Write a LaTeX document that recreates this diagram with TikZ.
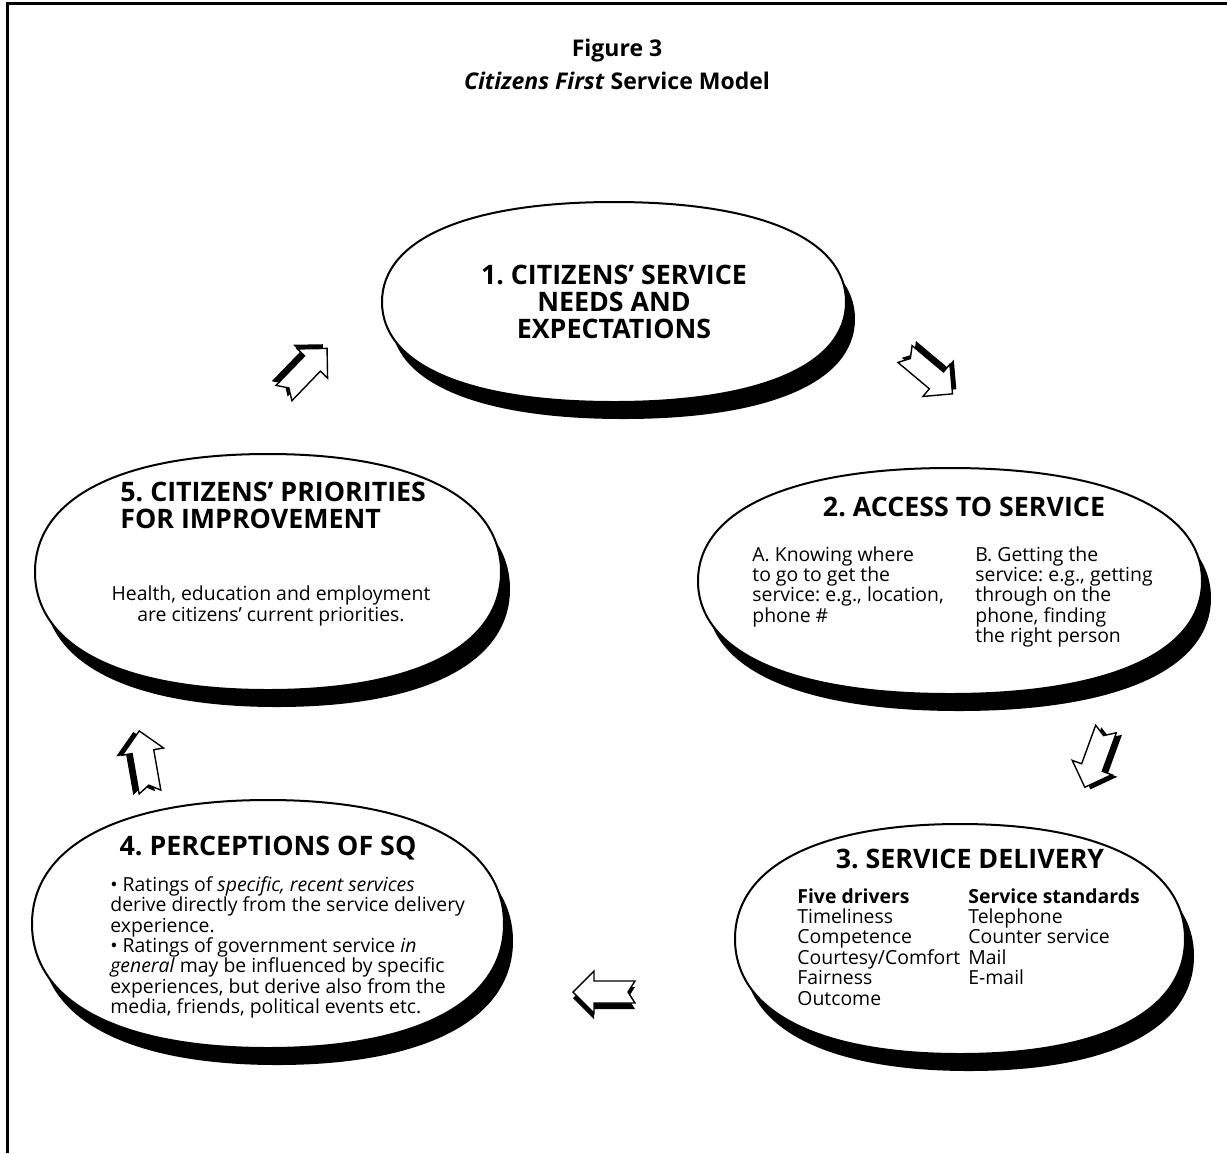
\documentclass[tikz,border=0pt]{standalone}
\usepackage{fontspec}
\setmainfont{Open Sans}
\usetikzlibrary{positioning}
\frenchspacing

\newcommand\stagedisc[5]{%
    \begin{scope}[shift={#2}, rotate=#5]
        \fill[black, shift={(9,17)}] [discpath={#3}{#4}];
        \draw[line width=1pt, fill=white] [discpath={#3}{#4}];
        \coordinate (#1) at (0,0);
    \end{scope}}

\begin{document}
\begin{tikzpicture}[
        x=0.5pt, y=-0.5pt,
        discpath/.style 2 args={
            insert path={(#1,0) .. controls (#1,0.63*#2) and (0.63*#1,#2) .. (0,#2)
                .. controls (-0.63*#1,#2) and (-#1,0.63*#2) .. (-#1,0)
                .. controls (-#1,-0.63*#2) and (-0.63*#1,-#2) .. (0,-#2)
                .. controls (0.63*#1,-#2) and (#1,-0.63*#2) .. cycle}
        },
        heading/.style={
            font=\bfseries\fontsize{13.4}{13.5}\selectfont,
            inner sep=0pt,
            align=center
        },
        body/.style={
            font=\fontsize{9.7}{10.2}\selectfont,
            inner sep=0pt,
            align=left
        },
        blockarrow/.pic={
            \fill[black] (0,-17) -- (41,-17) -- (41,-27) -- (62,-6) -- (41,15) -- (41,5) -- (0,5) -- (7,-6) -- cycle;
            \draw[fill=white, line width=0.7pt, line join=miter] (0,-11) -- (41,-11) -- (41,-21) -- (62,0) -- (41,21) -- (41,11) -- (0,11) -- (7,0) -- cycle;
        }
    ]
        \useasboundingbox (0,0) rectangle (1227,1153);
        \draw[line width=1.5pt] (7,1153) -- (7,3) -- (1227,3);

        \node[font=\bfseries\fontsize{11.5}{16.5}\selectfont, align=center, inner sep=0pt] (figtitle) at (617,64) {Figure 3\\\textit{Citizens First} Service Model};

        \stagedisc{needs}{(614,302)}{232}{100}{0}
        \stagedisc{access}{(950,581)}{252}{113}{0}
        \stagedisc{delivery}{(960,939)}{225}{115}{0}
        \stagedisc{percept}{(268,924)}{236}{124}{0}
        \stagedisc{priority}{(268,572)}{233}{118}{0}

        \node[heading] (needslabel) at (needs) {1. CITIZENS’ SERVICE\\NEEDS AND\\EXPECTATIONS};

        \node[heading] (accesslabel) at (964,507) {2. ACCESS TO SERVICE};
        \node[body, anchor=north west] (knowing) at (752,546) {A. Knowing where\\to go to get the\\service: e.g., location,\\phone \#};
        \node[body, anchor=north west] (getting) at (975,546) {B. Getting the\\service: e.g., getting\\through on the\\phone, finding\\the right person};

        \node[heading] (deliverylabel) at (970,859) {3. SERVICE DELIVERY};
        \node[body, anchor=north west] (drivers) at (797,888) {\textbf{Five drivers}\\Timeliness\\Competence\\Courtesy/Comfort\\Fairness\\Outcome};
        \node[body, anchor=north west] (standards) at (968,888) {\textbf{Service standards}\\Telephone\\Counter service\\Mail\\E-mail};

        \node[heading] (perceptlabel) at (268,848) {4. PERCEPTIONS OF SQ};
        \node[body, anchor=north west] (ratings) at (110,876) {• Ratings of \textit{specific, recent services}\\derive directly from the service delivery\\experience.\\• Ratings of government service \textit{in}\\\textit{general} may be influenced by specific\\experiences, but derive also from the\\media, friends, political events etc.};

        \node[heading, anchor=north west, align=left] (prioritylabel) at (120,482) {5. CITIZENS’ PRIORITIES\\FOR IMPROVEMENT};
        \node[body, align=center] (health) at (271,606) {Health, education and employment\\are citizens’ current priorities.};

        \pic[rotate=46] at (284,393) {blockarrow};
        \pic[rotate=-40] at (905,354) {blockarrow};
        \pic[rotate=250] at (1106,729) {blockarrow};
        \pic[rotate=180] at (635,992) {blockarrow};
        \pic[rotate=100] at (150,792) {blockarrow};
    \end{tikzpicture}
\end{document}
